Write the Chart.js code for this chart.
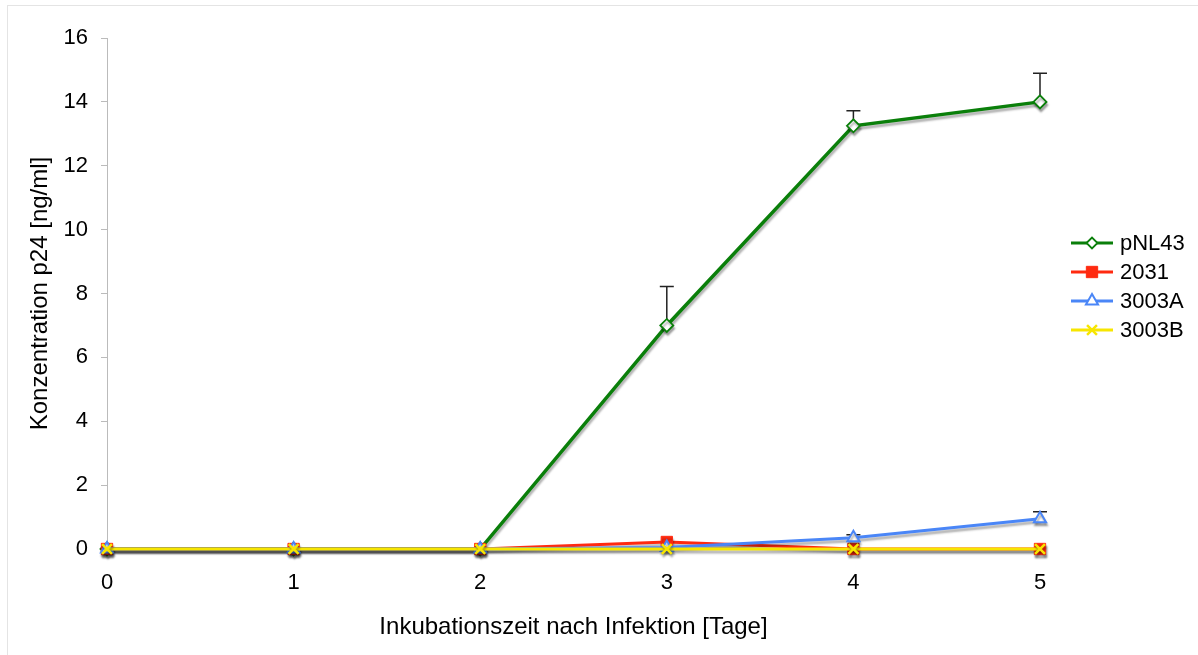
<!DOCTYPE html>
<html>
<head>
<meta charset="utf-8">
<script src="https://cdn.jsdelivr.net/npm/chart.js@4.4.1/dist/chart.umd.min.js"></script>
<style>
html,body{margin:0;padding:0;background:#fff;}
#wrap{width:1198px;height:655px;position:relative;}
</style>
</head>
<body>
<div id="wrap"><canvas id="c" width="1198" height="655"></canvas></div>
<script>
const days = ['0','1','2','3','4','5'];
const seriesNames = ['pNL43','2031','3003A','3003B'];
const pNL43 = [0, 0, 0, 7.0, 13.25, 14.0];
const s2031 = [0, 0, 0, 0.22, 0, 0];
const s3003A = [0, 0, 0, 0.05, 0.35, 0.95];
const s3003B = [0, 0, 0, 0, 0, 0];
const errPNL43 = [0, 0, 0, 1.22, 0.47, 0.9];
const err2031 = [0, 0, 0, 0, 0, 0];
const err3003A = [0, 0, 0, 0, 0.1, 0.22];
const err3003B = [0, 0, 0, 0, 0, 0];
const yTicks = [0, 2, 4, 6, 8, 10, 12, 14, 16];

const FONT = 'Liberation Sans, Arial, sans-serif';
const FS = 22;
const TFS = 24;

const frame = {
  id: 'frame',
  beforeDraw(chart) {
    const ctx = chart.ctx;
    ctx.save();
    ctx.strokeStyle = '#e4e4e4';
    ctx.lineWidth = 1;
    ctx.strokeRect(7.5, 5.5, 1400, 1000);
    ctx.restore();
  }
};

const shadow = {
  id: 'shadow',
  beforeDatasetDraw(chart, args) {
    const ctx = chart.ctx;
    ctx.save();
    ctx.shadowColor = 'rgba(0,0,0,0.3)';
    ctx.shadowOffsetX = 1;
    ctx.shadowOffsetY = 3;
    ctx.shadowBlur = 2;
  },
  afterDatasetDraw(chart) {
    chart.ctx.restore();
  }
};

const errorBars = {
  id: 'errorBars',
  beforeDatasetsDraw(chart) {
    const ctx = chart.ctx;
    const xs = chart.scales.x, ys = chart.scales.y;
    ctx.save();
    ctx.strokeStyle = '#222';
    ctx.lineWidth = 1.5;
    chart.data.datasets.forEach(ds => {
      ds.errors.forEach((e, i) => {
        if (!e) return;
        const x = xs.getPixelForValue(i);
        const y0 = ys.getPixelForValue(ds.data[i]);
        const y1 = ys.getPixelForValue(ds.data[i] + e);
        ctx.beginPath();
        ctx.moveTo(x, y0);
        ctx.lineTo(x, y1);
        ctx.moveTo(x - 7, y1);
        ctx.lineTo(x + 7, y1);
        ctx.stroke();
      });
    });
    ctx.restore();
  }
};

const customLegend = {
  id: 'customLegend',
  afterDraw(chart) {
    const ctx = chart.ctx;
    const x0 = 1071, x1 = 1113, tx = 1120;
    const ys = [243, 272, 301, 330];
    ctx.save();
    chart.data.datasets.forEach((ds, i) => {
      const y = ys[i];
      ctx.strokeStyle = ds.borderColor;
      ctx.lineWidth = 3;
      ctx.beginPath();
      ctx.moveTo(x0, y);
      ctx.lineTo(x1, y);
      ctx.stroke();
      ctx.fillStyle = ds.pointBackgroundColor;
      ctx.strokeStyle = ds.pointBorderColor;
      ctx.lineWidth = ds.pointBorderWidth;
      Chart.helpers.drawPoint(ctx, {
        pointStyle: ds.pointStyle,
        radius: ds.legendRadius,
        borderWidth: ds.pointBorderWidth
      }, (x0 + x1) / 2, y);
      ctx.fillStyle = '#000';
      ctx.font = FS + 'px ' + FONT;
      ctx.textBaseline = 'middle';
      ctx.textAlign = 'left';
      ctx.fillText(ds.label, tx, y + 1);
    });
    ctx.restore();
  }
};

const green = '#0a7f0a', red = '#ff2a10', blue = '#4a86f7', yellow = '#f7e600';

const chart = new Chart(document.getElementById('c'), {
  type: 'line',
  data: {
    labels: days,
    datasets: [
      { label: seriesNames[0], data: pNL43, errors: errPNL43, borderColor: green, borderWidth: 3.5,
        pointStyle: 'rectRot', pointRadius: 6.5, legendRadius: 5.5, pointBorderWidth: 1.8, pointBackgroundColor: '#fff', pointBorderColor: green, order: 3, clip: false },
      { label: seriesNames[1], data: s2031, errors: err2031, borderColor: red, borderWidth: 3,
        pointStyle: 'rect', pointRadius: 8, legendRadius: 8, pointBorderWidth: 1, pointBackgroundColor: red, pointBorderColor: red, order: 2, clip: false },
      { label: seriesNames[2], data: s3003A, errors: err3003A, borderColor: blue, borderWidth: 3,
        pointStyle: 'triangle', pointRadius: 7, legendRadius: 7, pointBorderWidth: 2, pointBackgroundColor: '#fff', pointBorderColor: blue, order: 1, clip: false },
      { label: seriesNames[3], data: s3003B, errors: err3003B, borderColor: yellow, borderWidth: 3,
        pointStyle: 'crossRot', pointRadius: 7, legendRadius: 7, pointBorderWidth: 2.5, pointBackgroundColor: yellow, pointBorderColor: yellow, order: 0, clip: false }
    ]
  },
  options: {
    responsive: false,
    animation: false,
    layout: { padding: { left: 26, right: 158, top: 38, bottom: 0 } },
    plugins: { legend: { display: false }, tooltip: { enabled: false } },
    elements: { line: { tension: 0 } },
    scales: {
      x: {
        type: 'category',
        offset: false,
        afterFit(scale) { scale.height = 106; },
        grid: { display: false, drawTicks: false },
        border: { display: true, color: '#bbb' },
        ticks: { color: '#000', font: { family: FONT, size: FS }, padding: 21, maxRotation: 0 },
        title: { display: true, text: 'Inkubationszeit nach Infektion [Tage]', color: '#000',
                 font: { family: FONT, size: TFS }, padding: { top: 13, bottom: 13 } }
      },
      y: {
        min: 0, max: 16,
        afterBuildTicks(scale) { scale.ticks = yTicks.map(v => ({ value: v })); },
        afterFit(scale) { scale.width = 81; },
        grid: { drawOnChartArea: false, drawTicks: true, tickLength: 6, color: '#bbb' },
        border: { display: true, color: '#bbb' },
        ticks: { color: '#000', font: { family: FONT, size: FS }, padding: 13 },
        title: { display: true, text: 'Konzentration p24 [ng/ml]', color: '#000',
                 font: { family: FONT, size: TFS }, padding: { top: 0, bottom: 0 } }
      }
    }
  },
  plugins: [frame, shadow, errorBars, customLegend]
});
</script>
</body>
</html>
